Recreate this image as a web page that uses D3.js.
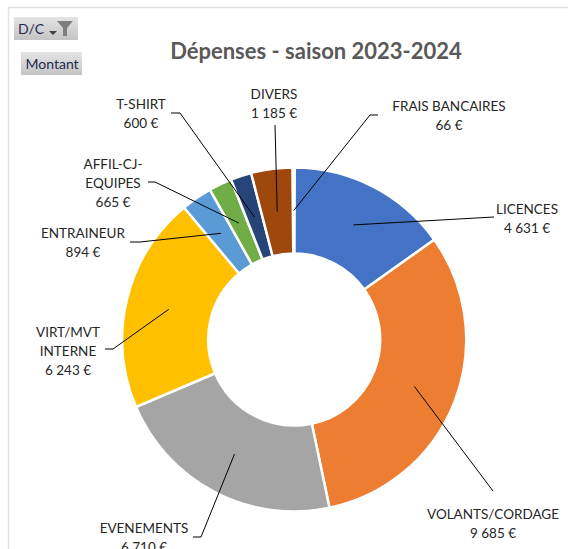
<!DOCTYPE html>
<html>
<head>
<meta charset="utf-8">
<script src="https://cdn.jsdelivr.net/npm/d3@7"></script>
<style>
  html, body { margin: 0; padding: 0; background: #fff; }
  svg { display: block; }
  text { font-family: Lato, "Open Sans", sans-serif; }
</style>
</head>
<body>
<div id="chart"></div>
<script>
var categories = ["FRAIS BANCAIRES", "LICENCES", "VOLANTS/CORDAGE", "EVENEMENTS", "VIRT/MVT INTERNE", "ENTRAINEUR", "AFFIL-CJ-EQUIPES", "T-SHIRT", "DIVERS"];
var montants = [66, 4631, 9685, 6710, 6243, 894, 665, 600, 1185];
var valueLabels = ["66 €", "4 631 €", "9 685 €", "6 710 €", "6 243 €", "894 €", "665 €", "600 €", "1 185 €"];
var labelLines = [["FRAIS BANCAIRES"], ["LICENCES"], ["VOLANTS/CORDAGE"], ["EVENEMENTS"], ["VIRT/MVT", "INTERNE"], ["ENTRAINEUR"], ["AFFIL-CJ-", "EQUIPES"], ["T-SHIRT"], ["DIVERS"]];
var colors = ["#ffffff", "#4472c4", "#ed7d31", "#a5a5a5", "#ffc000", "#5b9bd5", "#70ad47", "#264478", "#9e480e"];

// where each label sits, and the leader line from the slice to it
var labelCenter = [[449, 106], [527, 209], [493, 514], [144, 528], [68, 332], [83, 233], [113, 164], [141, 104], [274, 94]];
var leaderBend = [[370, 115], null, null, [201, 537], [113, 349], [140, 242], [155, 182], [180, 113], null];
var leaderEnd = [[378, 115], [494, 217], [493, 491], [193, 537], [105, 349], [130, 242], [148, 182], [171, 113], [275, 125]];

var width = 568, height = 549;
var cx = 294.2, cy = 339.5, outer = 172, inner = 86;
var firstAngle = -0.6 * Math.PI / 180;

var svg = d3.select("#chart").append("svg")
  .attr("width", width)
  .attr("height", height);

var defs = svg.append("defs");
var grad = defs.append("linearGradient").attr("id", "btn").attr("x2", 0).attr("y2", 1);
grad.append("stop").attr("offset", 0).attr("stop-color", "#e4e4e4");
grad.append("stop").attr("offset", 1).attr("stop-color", "#c4c4c4");

// chart frame, only top and left are in the picture
svg.append("path")
  .attr("d", d3.line()([[8.5, height], [8.5, 7.5], [width, 7.5]]))
  .attr("fill", "none")
  .attr("stroke", "#e2e2e2")
  .attr("stroke-width", 1.5);

svg.append("text")
  .attr("x", 316)
  .attr("y", 59)
  .attr("text-anchor", "middle")
  .attr("font-size", 22)
  .attr("font-weight", 700)
  .attr("fill", "#595959")
  .text("Dépenses - saison 2023-2024");

// field buttons of the pivot chart
svg.append("rect").attr("x", 14).attr("y", 17).attr("width", 64).attr("height", 23).attr("fill", "url(#btn)");
svg.append("text").attr("x", 18).attr("y", 34).attr("font-size", 14).attr("fill", "#1f2a4d").text("D/C");
svg.append("path").attr("d", d3.line()([[49, 31], [57, 31], [53, 35]])).attr("fill", "#404040");
svg.append("path").attr("d", d3.line()([[57, 21], [73, 21], [67, 28], [67, 36], [63, 36], [63, 28]])).attr("fill", "#7f7f7f");

svg.append("rect").attr("x", 21).attr("y", 52).attr("width", 61).attr("height", 23).attr("fill", "url(#btn)");
svg.append("text").attr("x", 25.5).attr("y", 69).attr("font-size", 14).attr("fill", "#1f2a4d").text("Montant");

var pie = d3.pie().sort(null)
  .startAngle(firstAngle)
  .endAngle(firstAngle + 2 * Math.PI)(montants);
var arc = d3.arc().innerRadius(inner).outerRadius(outer);
var leaderArc = d3.arc().innerRadius(87).outerRadius(171);

var ring = svg.append("g").attr("transform", "translate(" + cx + "," + cy + ")");

ring.selectAll("path")
  .data(pie)
  .enter()
  .append("path")
  .attr("d", arc)
  .attr("fill", function(d, i) { return colors[i]; })
  .attr("stroke", "#fff")
  .attr("stroke-width", 2.5);

// leader lines start in the middle of the slice
svg.append("g").selectAll("path")
  .data(pie)
  .enter()
  .append("path")
  .attr("fill", "none")
  .attr("stroke", "#000")
  .attr("stroke-width", 1)
  .attr("d", function(d, i) {
    var c = leaderArc.centroid(d);
    var pts = [[c[0] + cx, c[1] + cy]];
    if (leaderBend[i]) pts.push(leaderBend[i]);
    pts.push(leaderEnd[i]);
    return d3.line()(pts);
  });

var labels = svg.append("g").selectAll("text")
  .data(categories)
  .enter()
  .append("text")
  .attr("text-anchor", "middle")
  .attr("font-size", 13.5)
  .attr("fill", "#262626");

labels.each(function(d, i) {
  var t = d3.select(this);
  labelLines[i].concat(valueLabels[i]).forEach(function(line, k) {
    t.append("tspan")
      .attr("x", labelCenter[i][0])
      .attr("y", labelCenter[i][1] + 4.5 + k * 19.3)
      .text(line);
  });
});
</script>
</body>
</html>
